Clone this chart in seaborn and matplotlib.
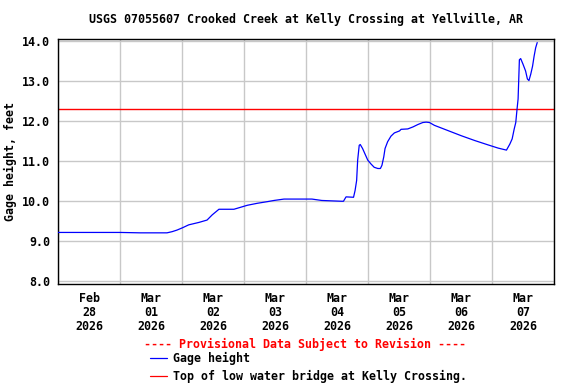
import matplotlib
matplotlib.use("Agg")
import matplotlib.pyplot as plt
import matplotlib.dates as mdates
from matplotlib.lines import Line2D
import pandas as pd
import seaborn as sns

TITLE = "USGS 07055607 Crooked Creek at Kelly Crossing at Yellville, AR"
START = "2026-02-28 00:00"
END = "2026-03-08 00:00"

# hours after START, gage height in feet
hours = [0.0, 24.1, 31.8, 42.2, 44.2, 46.1, 48.3, 50.6, 54.5, 57.7, 59.7, 62.3,
         68.1, 70.7, 73.3, 77.2, 81.0, 83.6, 87.5, 98.3, 102.1, 109.9, 110.5,
         111.5, 114.4, 115.0, 115.6, 116.0, 116.6, 117.0, 117.9, 119.0, 119.9,
         121.2, 122.4, 123.8, 124.8, 125.4, 126.1, 126.6, 127.6, 128.9, 130.2,
         132.2, 132.8, 135.4, 137.4, 139.3, 141.2, 142.5, 143.8, 145.7, 150.9,
         156.1, 161.3, 166.5, 170.4, 173.6, 174.9, 175.8, 176.6, 177.2, 177.7,
         178.1, 178.4, 178.6, 179.1, 180.0, 181.0, 181.7, 182.3, 183.0, 183.7,
         184.3, 184.9, 185.5]
gage_ft = [9.22, 9.22, 9.21, 9.21, 9.24, 9.28, 9.34, 9.41, 9.47, 9.53, 9.66, 9.80,
           9.80, 9.85, 9.90, 9.95, 9.99, 10.02, 10.055, 10.055, 10.02, 10.00, 10.00,
           10.11, 10.10, 10.27, 10.52, 11.03, 11.40, 11.42, 11.32, 11.16, 11.03,
           10.93, 10.85, 10.82, 10.82, 10.90, 11.11, 11.32, 11.49, 11.63, 11.71,
           11.76, 11.80, 11.81, 11.86, 11.92, 11.97, 11.98, 11.97, 11.90, 11.77,
           11.64, 11.52, 11.41, 11.33, 11.28, 11.43, 11.56, 11.81, 11.97, 12.31,
           12.56, 13.14, 13.54, 13.57, 13.43, 13.26, 13.06, 13.02, 13.18, 13.38,
           13.63, 13.84, 13.97]
bridge_ft = 12.3
y_ticks = [8.0, 9.0, 10.0, 11.0, 12.0, 13.0, 14.0]
legend_labels = ["Gage height", "Top of low water bridge at Kelly Crossing."]
provisional = "---- Provisional Data Subject to Revision ----"

df = pd.DataFrame({
    "time": pd.Timestamp(START) + pd.to_timedelta(hours, unit="h"),
    "gage": gage_ft,
})

sns.set_theme(style="white")
plt.rcParams["font.family"] = ["DejaVu Sans Mono"]
plt.rcParams["font.weight"] = "bold"
for key in ["text.color", "axes.labelcolor", "xtick.color", "ytick.color"]:
    plt.rcParams[key] = "black"

FS = 8.4

fig = plt.figure(figsize=(5.76, 3.84), dpi=100)
ax = fig.add_axes([58 / 576, 1 - 284 / 384, (554 - 58) / 576, (284 - 39) / 384])

sns.lineplot(data=df, x="time", y="gage", color="#0000ff", lw=0.9,
             ax=ax, legend=False, zorder=3)
ax.axhline(bridge_ft, color="#ff0000", lw=1.0, zorder=2)

ax.set_xlim(pd.Timestamp(START), pd.Timestamp(END))
ax.set_ylim(7.93, 14.06)
ax.set_yticks(y_ticks)
ax.set_yticklabels([f"{v:.1f}" for v in y_ticks], fontsize=FS, weight="bold")

ax.xaxis.set_major_locator(mdates.HourLocator(byhour=12))
ax.xaxis.set_major_formatter(mdates.DateFormatter("%b\n%d\n%Y"))
ax.xaxis.set_minor_locator(mdates.DayLocator())
for lab in ax.get_xticklabels():
    lab.set_fontsize(FS)
    lab.set_fontweight("bold")
    lab.set_linespacing(1.1)

ax.grid(False)
ax.grid(which="minor", axis="x", color="#c8c8c8", lw=1.0, zorder=0)
ax.grid(which="major", axis="y", color="#c8c8c8", lw=1.0, zorder=0)
ax.tick_params(axis="both", which="both", length=0)
ax.tick_params(axis="y", pad=5.5)
ax.tick_params(axis="x", pad=6)

for s in ax.spines.values():
    s.set_color("black")
    s.set_linewidth(1.0)

ax.set_xlabel("")
ax.set_ylabel("Gage height, feet", fontsize=FS, weight="bold")
ax.yaxis.set_label_coords(-0.083, 0.5)

fig.text(306 / 576, 1 - 19 / 384, TITLE, ha="center", va="center",
         fontsize=FS, weight="bold")
fig.text(305 / 576, 1 - 344 / 384, provisional, ha="center", va="center",
         fontsize=FS, weight="bold", color="#ff0000")

handles = [Line2D([], [], color="#0000ff", lw=0.9),
           Line2D([], [], color="#ff0000", lw=0.9)]
fig.legend(handles, legend_labels, loc="upper left",
           bbox_to_anchor=(150 / 576, 1 - 352 / 384), frameon=False,
           handlelength=1.45, handletextpad=0.5,
           labelspacing=0.4, borderaxespad=0, borderpad=0,
           prop={"weight": "bold", "size": FS})

fig.savefig("out.png", dpi=100, facecolor="white")
